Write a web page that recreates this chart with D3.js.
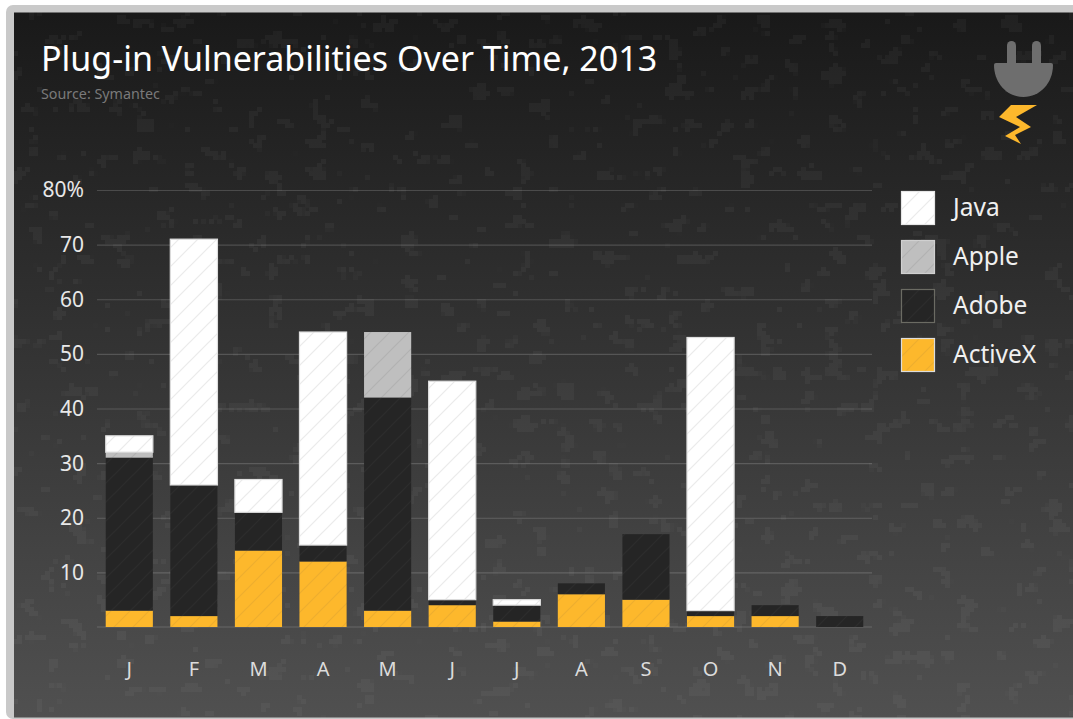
<!DOCTYPE html>
<html>
<head>
<meta charset="utf-8">
<script src="https://cdn.jsdelivr.net/npm/d3@7"></script>
<style>
  html, body { margin: 0; padding: 0; background: #fff; overflow: hidden; }
  text { font-family: "Noto Sans", sans-serif; }
</style>
</head>
<body>
<div id="chart"></div>
<script>
var months = ["J", "F", "M", "A", "M", "J", "J", "A", "S", "O", "N", "D"];
var activeX = [3, 2, 14, 12, 3, 4, 1, 6, 5, 2, 2, 0];
var adobe = [28, 24, 7, 3, 39, 1, 3, 2, 12, 1, 2, 2];
var apple = [1, 0, 0, 0, 12, 0, 0, 0, 0, 0, 0, 0];
var java = [3, 45, 6, 39, 0, 40, 1, 0, 0, 50, 0, 0];
var yTicks = [10, 20, 30, 40, 50, 60, 70, 80];
var seriesKeys = ["ActiveX", "Adobe", "Apple", "Java"];
var legendOrder = ["Java", "Apple", "Adobe", "ActiveX"];

function init() {
    var w = 1073;
    var h = 719;
    var margin = {left: 97, right: 201, top: 190, bottom: 92};

    var fills = {Java: "#ffffff", Apple: "#bfbfbf", Adobe: "#252525", ActiveX: "#fdb82c"};
    var hatch = {Java: "#ebebeb", Apple: "#b2b2b2", Adobe: "#2c2c2c", ActiveX: "#eeae2e"};
    var legendStroke = {Java: "#e6e6e6", Apple: "#d0d0d0", Adobe: "#6b6b63", ActiveX: "#dcdcdc"};

    var table = months.map(function(m, i) {
        return {ActiveX: activeX[i], Adobe: adobe[i], Apple: apple[i], Java: java[i]};
    });
    var stacked = d3.stack().keys(seriesKeys)(table);

    var x = d3.scaleBand()
              .domain(d3.range(months.length))
              .range([margin.left, w - margin.right])
              .paddingInner(0.27)
              .paddingOuter(0.135);
    var y = d3.scaleLinear()
              .domain([0, 80])
              .range([h - margin.bottom, margin.top]);

    var svg = d3.select("#chart")
                .append("svg")
                .attr("width", w)
                .attr("height", h)
                .style("display", "block");

    var defs = svg.append("defs");

    var grad = defs.append("linearGradient")
                   .attr("id", "panelGrad")
                   .attr("x1", 0).attr("y1", 0).attr("x2", 0).attr("y2", 1);
    grad.append("stop").attr("offset", "0%").attr("stop-color", "#191919");
    grad.append("stop").attr("offset", "100%").attr("stop-color", "#505050");

    // speckled paper texture, blocky like the jpeg in the original
    var filter = defs.append("filter")
                     .attr("id", "speckle")
                     .attr("filterUnits", "userSpaceOnUse")
                     .attr("x", 14).attr("y", 12).attr("width", w).attr("height", 706)
                     .attr("color-interpolation-filters", "sRGB");
    filter.append("feTurbulence")
          .attr("type", "fractalNoise")
          .attr("baseFrequency", "0.045 0.06")
          .attr("numOctaves", 4)
          .attr("seed", 7)
          .attr("result", "noise");
    filter.append("feColorMatrix")
          .attr("in", "noise")
          .attr("values", "0 0 0 0 1  0 0 0 0 1  0 0 0 0 1  0 0 0 40 -26.6")
          .attr("result", "spots");
    filter.append("feFlood")
          .attr("x", 15).attr("y", 13).attr("width", 1).attr("height", 1)
          .attr("flood-color", "#000")
          .attr("result", "dot");
    filter.append("feOffset")
          .attr("in", "dot")
          .attr("x", 14).attr("y", 12).attr("width", 4).attr("height", 4)
          .attr("result", "cell");
    filter.append("feTile").attr("in", "cell").attr("result", "tile");
    filter.append("feComposite")
          .attr("in", "spots").attr("in2", "tile")
          .attr("operator", "in")
          .attr("result", "sampled");
    filter.append("feMorphology")
          .attr("in", "sampled")
          .attr("operator", "dilate")
          .attr("radius", 2);

    seriesKeys.forEach(function(key) {
        var p = defs.append("pattern")
                    .attr("id", "hatch" + key)
                    .attr("patternUnits", "userSpaceOnUse")
                    .attr("width", 19)
                    .attr("height", 19);
        p.append("rect").attr("width", 19).attr("height", 19).attr("fill", fills[key]);
        p.append("path")
         .attr("d", "M-2,2 L2,-2 M0,19 L19,0 M17,21 L21,17")
         .attr("stroke", hatch[key])
         .attr("stroke-width", 1.2);
    });

    // frame and panel
    svg.append("rect")
       .attr("x", 6).attr("y", 5)
       .attr("width", w + 20).attr("height", h - 5)
       .attr("rx", 7)
       .attr("fill", "#c9c9c9");
    svg.append("rect")
       .attr("x", 14).attr("y", 12.5)
       .attr("width", w).attr("height", 705)
       .attr("fill", "url(#panelGrad)");
    svg.append("rect")
       .attr("x", 14).attr("y", 12.5)
       .attr("width", w).attr("height", 705)
       .attr("fill", "#fff")
       .attr("filter", "url(#speckle)")
       .attr("opacity", 0.035);

    // title block
    svg.append("text")
       .attr("x", 41).attr("y", 71)
       .attr("font-size", 34)
       .attr("fill", "#ffffff")
       .text("Plug-in Vulnerabilities Over Time, 2013");
    svg.append("text")
       .attr("x", 41).attr("y", 99)
       .attr("font-size", 14.3)
       .attr("fill", "#7a7a7a")
       .text("Source: Symantec");

    // plug icon
    var icon = svg.append("g").attr("fill", "#6e6e6e");
    icon.append("rect").attr("x", 1007).attr("y", 41).attr("width", 9).attr("height", 26).attr("rx", 4.5);
    icon.append("rect").attr("x", 1032).attr("y", 41).attr("width", 9).attr("height", 26).attr("rx", 4.5);
    icon.append("path").attr("d", "M996,63 L1051,63 Q1053,63 1053,65 C1053,83 1040,97 1023.5,97 C1007,97 994,83 994,65 Q994,63 996,63 Z");
    svg.append("polygon")
       .attr("points", "1037,105 1016,117 1031,127 1015,135 1021,144 1005,136 1020,127 999,117 1011,105")
       .attr("fill", "#fdb82c");

    // gridlines
    var yAxis = d3.axisLeft(y)
                  .tickValues(yTicks)
                  .tickSize(-(w - margin.left - margin.right))
                  .tickFormat(function(d) { return d === 80 ? "80%" : d; });
    var yG = svg.append("g")
                .attr("transform", "translate(" + margin.left + ",0)")
                .call(yAxis);
    yG.select(".domain").remove();
    yG.selectAll(".tick line")
      .attr("stroke", "#ffffff")
      .attr("stroke-opacity", 0.17)
      .attr("stroke-width", 1.2);
    yG.selectAll(".tick text")
      .attr("x", -13)
      .attr("dy", "0.33em")
      .attr("font-size", 21)
      .attr("fill", "#e8e8e8");

    svg.append("line")
       .attr("x1", margin.left).attr("x2", w - margin.right)
       .attr("y1", y(0)).attr("y2", y(0))
       .attr("stroke", "#ffffff")
       .attr("stroke-opacity", 0.17)
       .attr("stroke-width", 1.2);

    // bars
    var layers = svg.selectAll("g.layer")
                    .data(stacked)
                    .enter()
                    .append("g")
                    .attr("class", "layer");

    layers.selectAll("rect")
          .data(function(s) {
              return s.map(function(d, i) {
                  return {key: s.key, i: i, y0: d[0], y1: d[1]};
              }).filter(function(d) { return d.y1 > d.y0; });
          })
          .enter()
          .append("rect")
          .attr("x", function(d) { return x(d.i); })
          .attr("y", function(d) { return y(d.y1); })
          .attr("width", x.bandwidth())
          .attr("height", function(d) { return y(d.y0) - y(d.y1); })
          .attr("fill", function(d) { return "url(#hatch" + d.key + ")"; })
          .attr("stroke", function(d) { return d.key === "Java" ? "#dedede" : "none"; })
          .attr("stroke-width", 1.2);

    // month labels
    var xAxis = d3.axisBottom(x)
                  .tickSize(0)
                  .tickFormat(function(i) { return months[i]; });
    var xG = svg.append("g")
                .attr("transform", "translate(0," + y(0) + ")")
                .call(xAxis);
    xG.select(".domain").remove();
    xG.selectAll(".tick text")
      .attr("y", 35)
      .attr("dy", "0.71em")
      .attr("font-size", 20)
      .attr("fill", "#dcdcdc");

    // legend
    var legend = svg.selectAll("g.legend")
                    .data(legendOrder)
                    .enter()
                    .append("g")
                    .attr("class", "legend")
                    .attr("transform", function(d, i) {
                        return "translate(901," + (191 + i * 49) + ")";
                    });
    legend.append("rect")
          .attr("x", 0.5).attr("y", 0.5)
          .attr("width", 33).attr("height", 33)
          .attr("fill", function(d) { return "url(#hatch" + d + ")"; })
          .attr("stroke", function(d) { return legendStroke[d]; })
          .attr("stroke-width", 1.2);
    legend.append("text")
          .attr("x", 52).attr("y", 25)
          .attr("font-size", 24.5)
          .attr("fill", "#f0f0f0")
          .text(function(d) { return d; });
}

window.onload = init;
</script>
</body>
</html>
